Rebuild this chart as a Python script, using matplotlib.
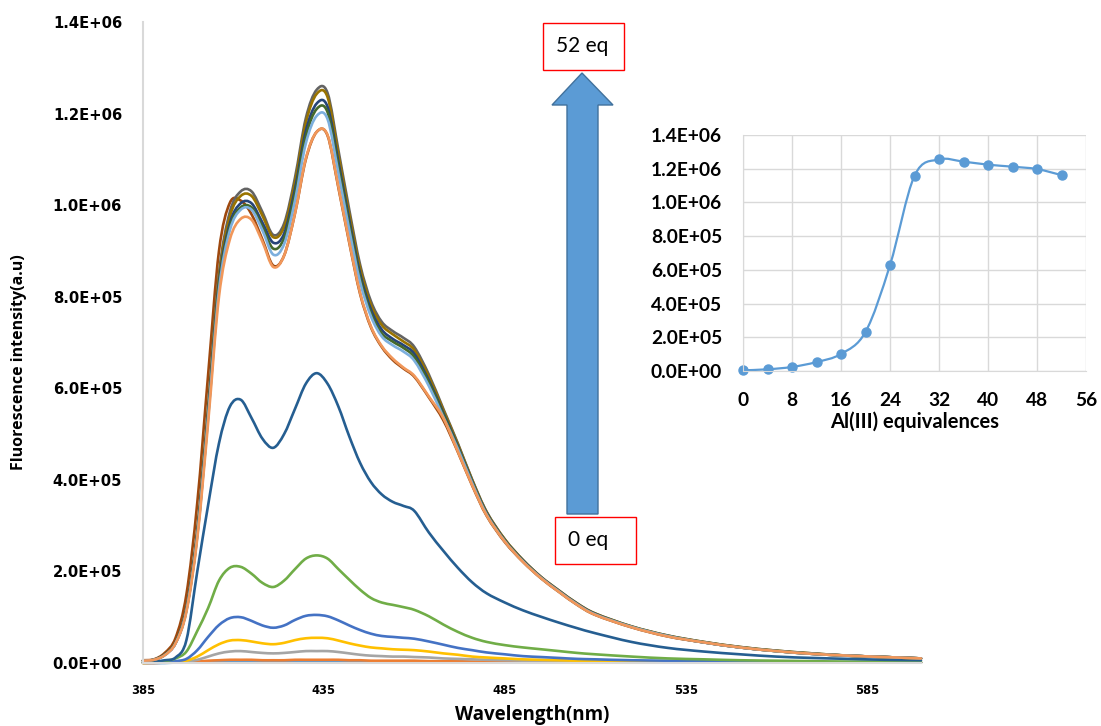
import numpy as np
import matplotlib.pyplot as plt
from matplotlib.path import Path
from matplotlib.patches import PathPatch, Rectangle, Polygon

# emission wavelengths (nm)
wavelength = [385, 388, 391, 394, 397, 400, 403, 406, 409, 412, 415, 418, 421, 424, 427,
              430, 433, 436, 439, 442, 445, 448, 451, 454, 457, 460, 464, 468, 472, 476,
              480, 485, 490, 495, 500, 505, 510, 520, 530, 540, 550, 560, 570, 580, 590, 600]

# fluorescence intensity, in units of 1e3 a.u., one list per Al(III) equivalence
i_00eq = [0, 0, 0, 1, 1, 1, 2, 2, 2, 2, 2, 2, 2, 2, 2, 2, 2, 2, 2, 2, 2, 2, 2, 2, 2, 2, 2,
          2, 2, 2, 1, 1, 1, 1, 1, 1, 1, 1, 1, 1, 1, 1, 1, 1, 1, 1]
i_04eq = [0, 0, 1, 1, 2, 3, 5, 6, 7, 7, 7, 6, 6, 6, 7, 7, 7, 7, 7, 6, 6, 5, 5, 5, 5, 5, 4,
          4, 4, 3, 3, 3, 3, 2, 2, 2, 2, 2, 1, 1, 1, 1, 1, 1, 1, 1]
i_08eq = [0, 0, 1, 1, 3, 7, 14, 21, 25, 26, 24, 22, 21, 22, 24, 26, 26, 26, 24, 21, 18, 16,
          15, 14, 14, 13, 12, 10, 9, 8, 7, 6, 5, 4, 4, 3, 3, 2, 2, 2, 1, 1, 1, 1, 1, 1]
i_12eq = [0, 1, 1, 2, 5, 14, 28, 41, 49, 50, 47, 43, 41, 44, 50, 54, 55, 54, 49, 43, 38, 34,
          32, 30, 29, 28, 25, 21, 18, 14, 12, 10, 8, 7, 6, 5, 4, 3, 3, 2, 2, 1, 1, 1, 1, 1]
i_16eq = [1, 1, 2, 4, 9, 28, 57, 83, 98, 100, 92, 82, 77, 82, 94, 103, 105, 102, 93, 82, 72,
          64, 59, 57, 55, 53, 47, 40, 33, 28, 23, 19, 15, 13, 11, 9, 8, 6, 5, 4, 3, 3, 2, 2, 2, 1]
i_20eq = [1, 2, 4, 10, 25, 70, 120, 180, 208, 210, 195, 175, 166, 180, 205, 228, 235, 228,
          205, 182, 160, 142, 132, 127, 122, 116, 102, 84, 68, 55, 46, 39, 34, 30, 26, 22, 19,
          14, 10, 8, 6, 5, 4, 3, 3, 2]
i_24eq = [2, 3, 6, 12, 50, 200, 345, 480, 560, 575, 535, 490, 470, 500, 555, 610, 633, 610,
          560, 495, 437, 395, 368, 352, 343, 332, 285, 245, 208, 176, 152, 132, 115, 101, 88,
          76, 65, 46, 33, 25, 19, 14, 11, 9, 7, 6]
i_28eq = [6, 8, 22, 55, 150, 350, 630, 900, 1005, 1010, 980, 925, 868, 890, 982, 1100, 1160,
          1152, 1038, 918, 806, 733, 690, 662, 643, 625, 580, 530, 461, 387, 321, 264, 221,
          185, 155, 127, 105, 78, 58, 45, 34, 26, 20, 16, 13, 10]
i_32eq = [5, 7, 18, 45, 120, 290, 560, 850, 985, 1030, 1030, 985, 935, 960, 1060, 1190, 1252,
          1245, 1120, 990, 870, 790, 745, 725, 710, 690, 630, 555, 480, 400, 330, 270, 225,
          188, 158, 130, 108, 80, 60, 46, 35, 27, 21, 16, 13, 10]
i_36eq = [5, 7, 18, 45, 118, 287, 555, 842, 975, 1020, 1020, 977, 930, 952, 1050, 1180, 1243,
          1236, 1110, 980, 862, 782, 738, 718, 702, 683, 625, 552, 478, 399, 329, 270, 225,
          188, 158, 130, 108, 80, 60, 46, 35, 27, 21, 16, 13, 10]
i_40eq = [5, 7, 18, 44, 117, 283, 546, 830, 960, 1004, 1004, 962, 918, 938, 1035, 1162, 1222,
          1215, 1094, 967, 850, 772, 728, 708, 694, 675, 617, 546, 474, 396, 327, 268, 224,
          187, 157, 129, 107, 79, 59, 45, 34, 26, 20, 16, 13, 10]
i_44eq = [5, 7, 18, 44, 116, 280, 540, 822, 952, 995, 995, 953, 905, 928, 1024, 1150, 1210,
          1203, 1083, 957, 841, 764, 720, 702, 688, 668, 612, 542, 471, 394, 325, 267, 223,
          186, 156, 128, 106, 79, 59, 45, 34, 26, 20, 16, 13, 10]
i_48eq = [5, 7, 17, 43, 114, 277, 536, 815, 945, 990, 990, 945, 892, 915, 1010, 1135, 1195,
          1188, 1070, 946, 832, 757, 713, 694, 680, 660, 605, 537, 468, 392, 324, 266, 222,
          186, 156, 128, 106, 79, 59, 45, 34, 26, 20, 16, 13, 10]
i_52eq = [5, 7, 17, 43, 112, 272, 525, 800, 925, 970, 968, 920, 865, 890, 982, 1102, 1160,
          1153, 1040, 920, 808, 735, 692, 665, 645, 627, 582, 535, 462, 388, 322, 265, 221,
          185, 155, 127, 105, 78, 58, 45, 34, 26, 20, 16, 13, 10]

spectra = [i_00eq, i_04eq, i_08eq, i_12eq, i_16eq, i_20eq, i_24eq,
           i_28eq, i_32eq, i_36eq, i_40eq, i_44eq, i_48eq, i_52eq]
colors = ['#5B9BD5', '#ED7D31', '#A5A5A5', '#FFC000', '#4472C4', '#70AD47', '#255E91',
          '#9E480E', '#636363', '#997300', '#264478', '#43682B', '#7CAFDD', '#F1975A']

# titration curve (inset)
al_eq = [0, 4, 8, 12, 16, 20, 24, 28, 32, 36, 40, 44, 48, 52]
peak_intensity = [4e3, 1e4, 2.4e4, 5.3e4, 1.01e5, 2.32e5, 6.28e5, 1.158e6, 1.255e6,
                  1.242e6, 1.224e6, 1.212e6, 1.198e6, 1.162e6]

W, H = 1101, 726


def smooth_path(x, y):
    # Catmull-Rom style bezier through the points, like a smoothed spreadsheet line
    x = np.asarray(x, float)
    y = np.asarray(y, float)
    xp = np.r_[x[0], x, x[-1]]
    yp = np.r_[y[0], y, y[-1]]
    verts = [(x[0], y[0])]
    codes = [Path.MOVETO]
    for i in range(len(x) - 1):
        c1 = (xp[i + 1] + (xp[i + 2] - xp[i]) / 6, yp[i + 1] + (yp[i + 2] - yp[i]) / 6)
        c2 = (xp[i + 2] - (xp[i + 3] - xp[i + 1]) / 6, yp[i + 2] - (yp[i + 3] - yp[i + 1]) / 6)
        verts += [c1, c2, (xp[i + 2], yp[i + 2])]
        codes += [Path.CURVE4] * 3
    return Path(verts, codes)


def fx(px):
    return px / W


def fy(py):
    return 1 - py / H


fig = plt.figure(figsize=(W / 100, H / 100), dpi=100)

# main spectra
ax = fig.add_axes([fx(143), fy(663), (921 - 143) / W, (663 - 22) / H])
for vals, c in zip(spectra, colors):
    p = smooth_path(wavelength, np.array(vals) * 1e3)
    ax.add_patch(PathPatch(p, fill=False, edgecolor=c, lw=1.9, clip_on=False,
                           capstyle='round', joinstyle='round'))
ax.set_xlim(385, 600)
ax.set_ylim(0, 1.4e6)
ax.set_xticks(np.arange(385, 600, 50))
ax.set_yticks(np.arange(0, 1.41e6, 2e5))
ax.set_yticklabels([f'{v:.1E}' for v in np.arange(0, 1.41e6, 2e5)],
                   fontsize=10.6, fontweight='bold')
ax.set_xticklabels([str(v) for v in range(385, 600, 50)], fontsize=8.3, fontweight='bold')
ax.tick_params(length=0)
ax.tick_params(axis='y', pad=15)
ax.tick_params(axis='x', pad=15)
for s in ['top', 'right']:
    ax.spines[s].set_visible(False)
for s in ['left', 'bottom']:
    ax.spines[s].set_color('#D9D9D9')
    ax.spines[s].set_linewidth(1.5)
ax.set_xlabel('Wavelength(nm)', fontsize=13.5, fontweight='bold', family='Open Sans',
              labelpad=6)
ax.set_ylabel('Fluorescence intensity(a.u)', fontsize=11.5, fontweight='bold',
              family='Open Sans')
ax.yaxis.set_label_coords(-0.149, 0.47)

# inset titration curve
ins = fig.add_axes([fx(743), fy(371), (1086 - 743) / W, (371 - 135) / H])
ins.add_patch(PathPatch(smooth_path(al_eq, peak_intensity), fill=False,
                        edgecolor='#5B9BD5', lw=1.6))
ins.plot(al_eq, peak_intensity, 'o', color='#5B9BD5', ms=6.5, clip_on=False)
ins.set_xlim(0, 56)
ins.set_ylim(0, 1.4e6)
ins.set_xticks(range(0, 57, 8))
ins.set_yticks(np.arange(0, 1.41e6, 2e5))
ins.set_yticklabels([f'{v:.1E}' for v in np.arange(0, 1.41e6, 2e5)])
ins.grid(color='#D9D9D9', lw=1)
ins.set_axisbelow(True)
for lab in ins.get_xticklabels() + ins.get_yticklabels():
    lab.set_family('Lato')
    lab.set_fontweight('bold')
    lab.set_fontsize(13.8)
ins.tick_params(length=0)
ins.tick_params(axis='y', pad=15)
ins.tick_params(axis='x', pad=15)
for s in ['top', 'right']:
    ins.spines[s].set_visible(False)
for s in ['left', 'bottom']:
    ins.spines[s].set_color('#D9D9D9')
ins.set_xlabel('Al(III) equivalences', fontsize=14.5, fontweight='bold', family='Lato',
               labelpad=2)

# block arrow from 0 eq to 52 eq
arrow = [(567, 514), (598, 514), (598, 105), (613, 105), (582, 73), (552, 105), (567, 105)]
fig.patches.append(Polygon([(fx(a), fy(b)) for a, b in arrow], closed=True,
                           transform=fig.transFigure, facecolor='#5B9BD5',
                           edgecolor='#41719C', lw=1))

for (x0, y0, x1, y1), txt in [((543, 23, 624, 70), '52 eq'), ((555, 517, 636, 564), '0 eq')]:
    fig.patches.append(Rectangle((fx(x0), fy(y1)), (x1 - x0) / W, (y1 - y0) / H,
                                 transform=fig.transFigure, facecolor='white',
                                 edgecolor='#FF0000', lw=1))
    fig.text(fx(x0 + 13), fy((y0 + y1) / 2), txt, fontsize=15, family='Lato',
             va='center', ha='left')

fig.savefig('out.png', dpi=100)
